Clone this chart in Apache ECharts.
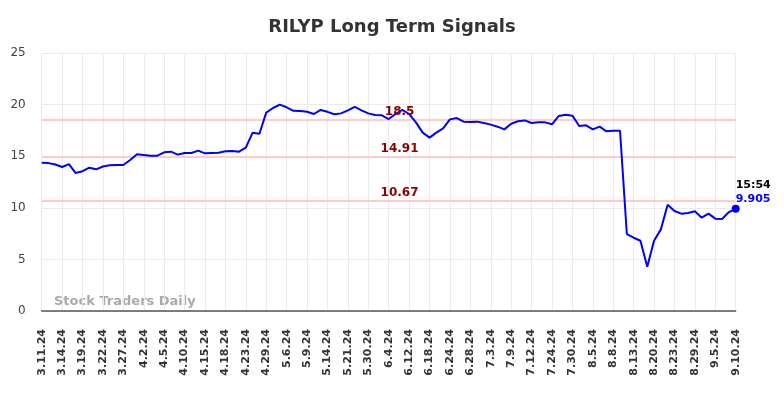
<!DOCTYPE html>
<html>
<head>
<meta charset="utf-8">
<script src="https://cdn.jsdelivr.net/npm/echarts@6/dist/echarts.min.js"></script>
<style>
  html, body { margin: 0; padding: 0; background: #fff; }
  #chart { width: 784px; height: 398px; }
</style>
</head>
<body>
<div id="chart"></div>
<script>
// tick labels on the x axis (one every 3 points)
var tickLabels = ['3.11.24','3.14.24','3.19.24','3.22.24','3.27.24','4.2.24','4.5.24','4.10.24','4.15.24','4.18.24',
    '4.23.24','4.29.24','5.6.24','5.9.24','5.14.24','5.21.24','5.30.24','6.4.24','6.12.24','6.18.24',
    '6.24.24','6.28.24','7.3.24','7.9.24','7.12.24','7.24.24','7.30.24','8.5.24','8.8.24','8.13.24',
    '8.20.24','8.23.24','8.29.24','9.5.24','9.10.24'];

// signal values
var signalValues = [14.37,14.33,14.2,13.95,14.24,13.37,13.55,13.89,13.73,14.0,
    14.12,14.15,14.15,14.63,15.18,15.12,15.05,15.05,15.38,15.44,
    15.15,15.31,15.31,15.54,15.28,15.31,15.34,15.47,15.5,15.44,
    15.83,17.28,17.18,19.22,19.67,20.0,19.74,19.4,19.38,19.3,
    19.09,19.48,19.3,19.06,19.15,19.44,19.77,19.44,19.15,18.99,
    18.96,18.6,19.09,19.48,19.09,18.28,17.28,16.8,17.28,17.7,
    18.57,18.7,18.35,18.31,18.35,18.22,18.06,17.86,17.6,18.15,
    18.38,18.47,18.22,18.28,18.28,18.09,18.9,19.02,18.93,17.93,
    17.99,17.6,17.86,17.41,17.47,17.47,7.46,7.1,6.81,4.29,
    6.81,7.91,10.3,9.69,9.43,9.5,9.66,9.04,9.43,8.95,
    8.92,9.59,9.905];

// horizontal signal levels
var levels = [18.5, 14.91, 10.67];

var lastTime = '15:54';
var lastValue = 9.905;

var chart = echarts.init(document.getElementById('chart'));

var points = [];
for (var i = 0; i < signalValues.length; i++) {
    points.push([i, signalValues[i]]);
}
var lastIdx = signalValues.length - 1;

var levelLines = [];
var levelLabels = [];
for (var j = 0; j < levels.length; j++) {
    levelLines.push({ yAxis: levels[j] });
    levelLabels.push({
        coord: [52.6, levels[j]],
        value: levels[j],
        symbolSize: 0,
        label: {
            show: true,
            position: [0, -8],
            align: 'center',
            verticalAlign: 'middle',
            formatter: String(levels[j]),
            color: '#8b0000',
            fontWeight: 'bold',
            fontSize: 12,
            fontFamily: 'DejaVu Sans'
        }
    });
}
levelLabels.push({
    coord: [lastIdx, lastValue],
    symbol: 'circle',
    symbolSize: 8,
    itemStyle: { color: '#0000ff' },
    label: {
        show: true,
        position: [4, -27],
        align: 'left',
        verticalAlign: 'top',
        formatter: '{t|' + lastTime + '}\n{v|' + lastValue + '}',
        rich: {
            t: { color: '#000', fontWeight: 'bold', fontSize: 11, fontFamily: 'DejaVu Sans', lineHeight: 14 },
            v: { color: '#0000ff', fontWeight: 'bold', fontSize: 11, fontFamily: 'DejaVu Sans', lineHeight: 14 }
        }
    }
});

var option = {
    animation: false,
    backgroundColor: '#fff',
    title: {
        text: 'RILYP Long Term Signals',
        left: 'center',
        top: 13,
        textStyle: {
            fontFamily: 'DejaVu Sans',
            fontSize: 18,
            fontWeight: 'bold',
            color: '#333'
        }
    },
    grid: {
        left: 41.7,
        right: 48.3,
        top: 53,
        bottom: 87
    },
    xAxis: {
        type: 'value',
        min: 0,
        max: (tickLabels.length - 1) * 3,
        interval: 3,
        axisLine: { onZero: false, lineStyle: { color: '#555', width: 1.5 } },
        axisTick: { show: false },
        splitLine: { show: true, lineStyle: { color: '#ebebeb', width: 1 } },
        axisLabel: {
            rotate: 90,
            margin: 18,
            fontFamily: 'DejaVu Sans',
            fontSize: 11,
            fontWeight: 'bold',
            color: '#333',
            formatter: function (v) {
                return tickLabels[Math.round(v / 3)] || '';
            }
        }
    },
    yAxis: {
        type: 'value',
        min: 0,
        max: 25,
        interval: 5,
        axisLine: { show: false },
        axisTick: { show: false },
        splitLine: { lineStyle: { color: '#ebebeb', width: 1 } },
        axisLabel: {
            margin: 16,
            fontFamily: 'DejaVu Sans',
            fontSize: 12,
            color: '#444'
        }
    },
    graphic: [{
        type: 'text',
        left: 54,
        top: 295,
        style: {
            text: 'Stock Traders Daily',
            font: 'bold 13px "DejaVu Sans"',
            fill: '#aaaaaa'
        }
    }],
    series: [{
        name: 'signal',
        type: 'line',
        data: points,
        showSymbol: false,
        lineStyle: { color: '#0000ff', width: 2 },
        itemStyle: { color: '#0000ff' },
        z: 3,
        markLine: {
            silent: true,
            symbol: 'none',
            label: { show: false },
            lineStyle: { color: '#ffcccc', width: 2, type: 'solid' },
            data: levelLines,
            z: 1
        },
        markPoint: {
            silent: true,
            data: levelLabels
        }
    }]
};

chart.setOption(option);
</script>
</body>
</html>
